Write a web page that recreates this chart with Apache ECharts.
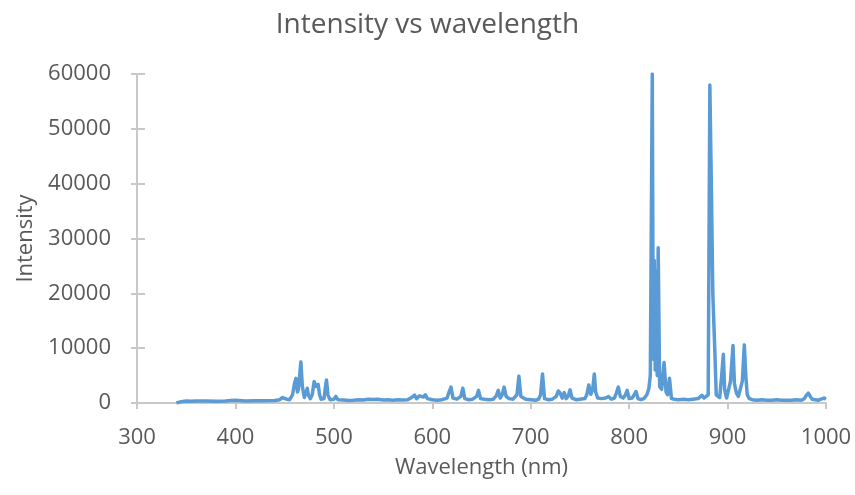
<!DOCTYPE html>
<html>
<head>
<meta charset="utf-8">
<script src="https://cdn.jsdelivr.net/npm/echarts@6/dist/echarts.min.js"></script>
<style>
html,body{margin:0;padding:0;background:#fff;}
#chart{width:855px;height:495px;}
</style>
</head>
<body>
<div id="chart"></div>
<script>
const titleText = "Intensity vs wavelength";
const xName = "Wavelength (nm)";
const yName = "Intensity";
const xTicks = [300, 1000, 100];
const yTicks = [0, 60000, 10000];

const wavelength = [
340,342,345,350,355,360,370,380,390,395,400,402,410,420,430,440,445,448,450,452,
455,458,460,461.5,463,464,466.5,468,470,472,473,474,476,478,480,482,484,485.5,487,490,
491.5,492.5,494,496,500,502,504,510,515,520,525,530,535,540,545,550,555,560,565,570,
575,578,580,582,584,587,589,591,593,595,600,605,610,615,617,619,621,625,629,631,
633,637,641,645,647,649,653,658,662,665,667,669,671,673,675,678,682,686,688,690,
695,700,705,708,710,712,714,718,722,726,728,730,732,734,736,738,740,742,746,750,
755,757,759,761,763,764.6,766,768,772,776,779,782,785,787,789,791,794,796,798,800,
803,805,807,809,812,815,818,820,821.5,823.5,824.5,825.5,826.5,827.5,828.5,829.5,831,833,835.5,837.5,
839,841,843,846,850,855,860,865,870,872,874,876,878,880.3,882,883.5,885,887,888.5,890,
892,894,895.7,897,899,901,903,905.5,907,909,911,913,915,917,918.5,920,922,925,930,935,
940,945,950,955,960,965,970,975,978,980,982,984,986,988,992,995,998,1000
];
const intensity = [
0,100,250,350,300,350,350,300,350,450,500,350,350,400,400,450,600,1000,1300,700,
600,1500,3500,4500,2000,2500,7500,3000,1000,2000,2700,1500,800,1500,3900,3000,3400,1500,700,800,
3000,4200,1500,600,700,1200,600,550,450,500,600,550,700,650,700,550,600,500,600,550,
600,900,1200,1450,800,1300,1600,1100,1500,800,600,500,600,900,2000,2900,900,700,1200,2700,
800,600,700,1200,2300,800,700,600,700,1300,2300,900,1500,2900,1200,800,700,1500,4900,1200,
700,600,500,700,1500,5300,800,600,700,1200,2200,1800,900,1900,800,1200,2400,900,600,700,
800,1500,3300,1600,2500,5300,2000,900,800,900,1200,700,900,1800,2900,1200,900,1400,2300,800,
900,1500,2100,800,600,800,1500,2600,5000,60000,8000,26000,6000,24000,5000,28300,3000,2500,7400,2000,
1500,4500,800,700,600,700,600,700,800,1100,1400,900,1000,1500,58000,40000,20000,9700,1500,1200,
1000,5000,8900,2500,900,1000,4000,10500,3500,1800,1200,1000,4000,10600,5000,1500,800,600,500,600,
500,500,600,500,500,500,600,500,800,1400,1800,1200,700,500,500,700,900,700
];

const seriesData = wavelength.map((w, i) => [w, intensity[i]]);

const chart = echarts.init(document.getElementById('chart'), null, {renderer: 'canvas'});
const fontFam = '"Open Sans", "Segoe UI", sans-serif';
const gray = '#595959';
const axisGray = '#C8C8C8';
const plain = v => String(v);

chart.setOption({
  animation: false,
  backgroundColor: '#ffffff',
  title: {
    text: titleText,
    left: 'center',
    top: 6,
    textStyle: {fontFamily: fontFam, fontSize: 28, fontWeight: 'normal', color: gray}
  },
  grid: {left: 137, right: 29, top: 74, bottom: 92},
  xAxis: {
    type: 'value',
    min: xTicks[0], max: xTicks[1], interval: xTicks[2],
    name: xName,
    nameLocation: 'middle',
    nameGap: 54,
    nameTextStyle: {fontFamily: fontFam, fontSize: 22, color: gray},
    axisLine: {show: true, lineStyle: {color: axisGray, width: 2}},
    axisTick: {show: true, inside: false, length: 6, lineStyle: {color: axisGray, width: 2}},
    axisLabel: {fontFamily: fontFam, fontSize: 22, color: gray, margin: 24, formatter: plain},
    splitLine: {show: false}
  },
  yAxis: [{
    type: 'value',
    min: yTicks[0], max: yTicks[1], interval: yTicks[2],
    name: yName,
    nameLocation: 'middle',
    nameRotate: 90,
    nameGap: 92,
    nameTextStyle: {fontFamily: fontFam, fontSize: 22, color: gray},
    axisLine: {show: true, lineStyle: {color: axisGray, width: 2}},
    axisTick: {show: true, inside: false, length: 6, lineStyle: {color: axisGray, width: 2}},
    axisLabel: {fontFamily: fontFam, fontSize: 22, color: gray, margin: 26, formatter: plain},
    splitLine: {show: false}
  }, {
    type: 'value',
    position: 'left',
    min: yTicks[0], max: yTicks[1], interval: yTicks[2],
    axisLine: {show: false},
    axisTick: {show: true, inside: true, length: 8, lineStyle: {color: axisGray, width: 2}},
    axisLabel: {show: false},
    splitLine: {show: false}
  }],
  series: [{
    type: 'line',
    data: seriesData,
    showSymbol: false,
    symbol: 'none',
    lineStyle: {color: '#5B9BD5', width: 3.5, join: 'round'},
    itemStyle: {color: '#5B9BD5'}
  }]
});
</script>
</body>
</html>
